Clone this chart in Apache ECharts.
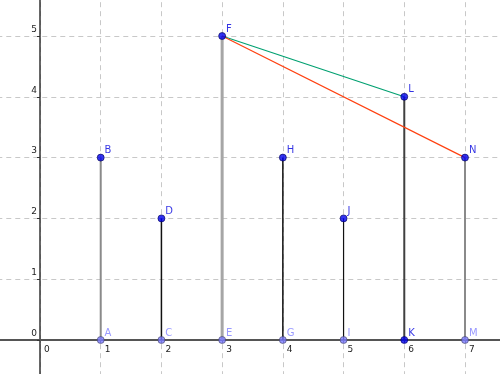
<!DOCTYPE html>
<html><head><meta charset="utf-8">
<script src="https://cdn.jsdelivr.net/npm/echarts@6/dist/echarts.min.js"></script>
<style>html,body{margin:0;padding:0;background:#fff}#c{width:500px;height:374px}</style>
</head><body><div id="c"></div>
<script>
// Data
var xs = [1, 2, 3, 4, 5, 6, 7];
var bottomNames = ['A', 'C', 'E', 'G', 'I', 'K', 'M'];
var topNames = ['B', 'D', 'F', 'H', 'J', 'L', 'N'];
var heights = [3, 2, 5, 3, 2, 4, 3];
var segColors = ['#8a8a8a', '#111111', '#a6a6a6', '#111111', '#111111', '#404040', '#8a8a8a'];
var segWidths = [2, 1.5, 3, 1.5, 1.2, 2, 2];
var greenLine = [[3, 5], [6, 4]];
var redLine = [[3, 5], [7, 3]];

var series = [];
xs.forEach(function (x, i) {
  series.push({
    type: 'line', data: [[x, 0], [x, heights[i]]], symbol: 'none', silent: true, z: 3,
    lineStyle: { color: segColors[i], width: segWidths[i] }
  });
});
series.push({ type: 'line', data: greenLine, symbol: 'none', z: 4, lineStyle: { color: '#00a070', width: 1.2 } });
series.push({ type: 'line', data: redLine, symbol: 'none', z: 4, lineStyle: { color: '#ff4010', width: 1.2 } });

var lbl = { show: true, position: 'right', distance: 0, offset: [0, -7], fontFamily: 'DejaVu Sans', fontSize: 10,
  formatter: function (p) { return p.name; } };
series.push({
  type: 'scatter', z: 6, symbolSize: 7,
  data: xs.map(function (x, i) {
    var dark = bottomNames[i] === 'K';
    return { name: bottomNames[i], value: [x, 0],
      itemStyle: { color: dark ? '#0000ee' : '#7a7aff', borderColor: dark ? '#000066' : '#444466', borderWidth: 0.8 },
      label: Object.assign({}, lbl, { color: dark ? '#0000dd' : '#8080ff' }) };
  })
});
series.push({
  type: 'scatter', z: 6, symbolSize: 7,
  data: xs.map(function (x, i) {
    return { name: topNames[i], value: [x, heights[i]],
      itemStyle: { color: '#0000ee', borderColor: '#000055', borderWidth: 0.8 },
      label: Object.assign({}, lbl, { color: '#0000dd' }) };
  })
});

var chart = echarts.init(document.getElementById('c'), null, { renderer: 'canvas' });
chart.setOption({
  animation: false,
  grid: { left: -20.71, right: -25.7, top: -24.8, bottom: -26.8, containLabel: false, outerBoundsMode: 'none' },
  xAxis: {
    type: 'value', min: -1, max: 8, interval: 1, position: 'bottom', offset: -60.8,
    axisLine: { show: true, onZero: false, lineStyle: { color: '#555', width: 1.8 } },
    axisTick: { show: true, length: 3, lineStyle: { color: '#555' } },
    axisLabel: { show: true, align: 'left', margin: 5, padding: [0, 0, 0, 4], fontFamily: 'DejaVu Sans', fontSize: 9, color: '#222' },
    splitLine: { show: true, lineStyle: { color: '#c8c8c8', type: [5, 4], width: 1 } }
  },
  yAxis: {
    type: 'value', min: -1, max: 6, interval: 1, position: 'left', offset: -60.71,
    axisLine: { show: true, onZero: false, lineStyle: { color: '#333', width: 1.5 } },
    axisTick: { show: true, length: 3, lineStyle: { color: '#333' } },
    axisLabel: { show: true, margin: 3, verticalAlign: 'bottom', padding: [0, 0, 2, 0], fontFamily: 'DejaVu Sans', fontSize: 9, color: '#222' },
    splitLine: { show: true, lineStyle: { color: '#c8c8c8', type: [5, 4], width: 1 } }
  },
  series: series
});
</script></body></html>
